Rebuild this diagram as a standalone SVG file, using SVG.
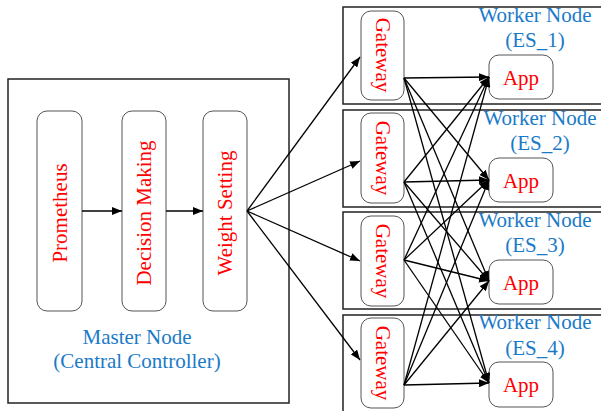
<svg xmlns="http://www.w3.org/2000/svg" width="601" height="411" viewBox="0 0 601 411">
<defs>
<marker id="ah" markerWidth="10" markerHeight="8" refX="10" refY="4" orient="auto" markerUnits="userSpaceOnUse">
<path d="M0,0 L10,4 L0,8 Z" fill="#000"/>
</marker>
<style>
.frame{fill:#fff;stroke:#222;stroke-width:1.5}
.rbox{fill:#fff;stroke:#555;stroke-width:1}
.red{fill:#ff0000;font-size:21px;text-anchor:middle;dominant-baseline:central}
.blue{fill:#1a7ac8;font-size:21px;text-anchor:middle;dominant-baseline:central}
.conn{stroke:#000;stroke-width:1.3;fill:none;marker-end:url(#ah)}
</style>
</defs>
<rect width="601" height="411" fill="#fff"/>
<g font-family="'Liberation Serif', 'Times New Roman', 'DejaVu Serif', serif">

<g id="master">
<rect class="frame" x="8" y="79" width="281" height="324"/>
<text class="blue" x="137" y="337">Master Node</text>
<text class="blue" x="137" y="361">(Central Controller)</text>
</g>
<g id="prometheus">
<rect class="rbox" x="37" y="111" width="45" height="200" rx="10"/>
<text class="red" transform="translate(59.5,213) rotate(-90)">Prometheus</text>
</g>
<g id="decision">
<rect class="rbox" x="122" y="111" width="44" height="200" rx="10"/>
<text class="red" transform="translate(144,213) rotate(-90)">Decision Making</text>
</g>
<g id="weight">
<rect class="rbox" x="203" y="111" width="44" height="200" rx="10"/>
<text class="red" transform="translate(225,213) rotate(-90)">Weight Setting</text>
</g>

<g id="worker1">
<rect class="frame" x="343" y="7" width="262" height="97"/>
<text class="blue" x="535" y="15">Worker Node</text>
<text class="blue" x="535" y="40">(ES_1)</text>
</g>
<g id="worker2">
<rect class="frame" x="343" y="110" width="262" height="97"/>
<text class="blue" x="540" y="118">Worker Node</text>
<text class="blue" x="540" y="143">(ES_2)</text>
</g>
<g id="worker3">
<rect class="frame" x="343" y="212" width="262" height="97"/>
<text class="blue" x="535" y="220">Worker Node</text>
<text class="blue" x="535" y="245">(ES_3)</text>
</g>
<g id="worker4">
<rect class="frame" x="343" y="315" width="262" height="100"/>
<text class="blue" x="535" y="322">Worker Node</text>
<text class="blue" x="535" y="348">(ES_4)</text>
</g>

<g id="gateway1">
<rect class="rbox" x="361" y="11" width="43" height="89" rx="10"/>
<text class="red" transform="translate(382.5,55) rotate(90)">Gateway</text>
</g>
<g id="gateway2">
<rect class="rbox" x="361" y="113" width="43" height="90" rx="10"/>
<text class="red" transform="translate(382.5,158) rotate(90)">Gateway</text>
</g>
<g id="gateway3">
<rect class="rbox" x="361" y="216" width="43" height="90" rx="10"/>
<text class="red" transform="translate(382.5,261) rotate(90)">Gateway</text>
</g>
<g id="gateway4">
<rect class="rbox" x="361" y="318" width="43" height="90" rx="10"/>
<text class="red" transform="translate(382.5,363) rotate(90)">Gateway</text>
</g>

<g id="app1">
<rect class="rbox" x="489" y="55" width="64" height="44" rx="10"/>
<text class="red" x="521" y="78">App</text>
</g>
<g id="app2">
<rect class="rbox" x="489" y="158" width="64" height="44" rx="10"/>
<text class="red" x="521" y="181">App</text>
</g>
<g id="app3">
<rect class="rbox" x="489" y="260" width="64" height="44" rx="10"/>
<text class="red" x="521" y="283">App</text>
</g>
<g id="app4">
<rect class="rbox" x="489" y="362" width="64" height="45" rx="10"/>
<text class="red" x="521" y="385">App</text>
</g>
</g>

<g id="connectors">
<line class="conn" x1="82" y1="211" x2="122" y2="211"/>
<line class="conn" x1="166" y1="211" x2="203" y2="211"/>
<line class="conn" x1="247" y1="211" x2="360" y2="57"/>
<line class="conn" x1="247" y1="211" x2="360" y2="161"/>
<line class="conn" x1="247" y1="211" x2="360" y2="261"/>
<line class="conn" x1="247" y1="211" x2="360" y2="360"/>

<line class="conn" x1="404" y1="78" x2="489" y2="77"/>
<line class="conn" x1="404" y1="78" x2="489" y2="180"/>
<line class="conn" x1="404" y1="78" x2="489" y2="281"/>
<line class="conn" x1="404" y1="78" x2="489" y2="383"/>

<line class="conn" x1="404" y1="182" x2="489" y2="77"/>
<line class="conn" x1="404" y1="182" x2="489" y2="180"/>
<line class="conn" x1="404" y1="182" x2="489" y2="281"/>
<line class="conn" x1="404" y1="182" x2="489" y2="383"/>

<line class="conn" x1="404" y1="260" x2="489" y2="77"/>
<line class="conn" x1="404" y1="260" x2="489" y2="180"/>
<line class="conn" x1="404" y1="260" x2="489" y2="281"/>
<line class="conn" x1="404" y1="260" x2="489" y2="383"/>

<line class="conn" x1="404" y1="385" x2="489" y2="77"/>
<line class="conn" x1="404" y1="385" x2="489" y2="180"/>
<line class="conn" x1="404" y1="385" x2="489" y2="281"/>
<line class="conn" x1="404" y1="385" x2="489" y2="383"/>
</g>
</svg>
